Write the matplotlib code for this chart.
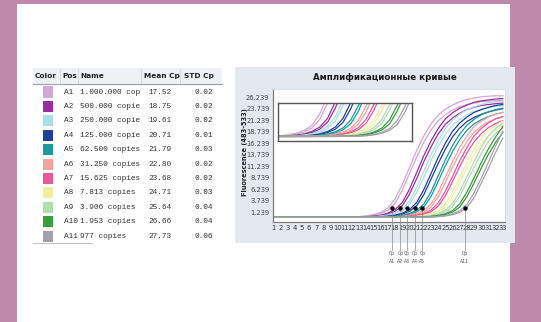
import matplotlib.pyplot as plt
from matplotlib.patches import Rectangle

W, H = 541, 322

# table data
positions = ["A1", "A2", "A3", "A4", "A5", "A6", "A7", "A8", "A9", "A10", "A11"]
names = ["1.000.000 cop", "500.000 copie", "250.000 copie", "125.000 copie",
         "62.500 copies", "31.250 copies", "15.625 copies", "7.813 copies",
         "3.906 copies", "1.953 copies", "977 copies"]
mean_cp = [17.52, 18.75, 19.61, 20.71, 21.79, 22.80, 23.68, 24.71, 25.64, 26.66, 27.73]
std_cp = [0.02, 0.02, 0.02, 0.01, 0.03, 0.02, 0.02, 0.03, 0.04, 0.04, 0.06]
colors = ["#d2a6d6", "#9a2e9e", "#abdde6", "#20409c", "#1c9a9e", "#f4a2a0",
          "#e8579a", "#f3efa2", "#b2dcb2", "#3b9b3f", "#a3a1ab"]

# fluorescence per cycle, two replicates per sample
cycles = list(range(1, 34))
fluor = [
    [0.1] * 11 + [0.13, 0.2, 0.32, 0.55, 0.94, 1.63, 3.15, 6.0, 9.6, 13.2, 16.4, 19.1, 21.1, 22.4, 23.4, 24.1, 24.6, 24.9, 25.2, 25.35, 25.45, 25.5],
    [0.1] * 12 + [0.12, 0.17, 0.28, 0.46, 0.8, 1.4, 2.6, 5.1, 8.5, 12.2, 15.4, 18.2, 20.3, 21.7, 22.7, 23.5, 24.0, 24.4, 24.6, 24.8, 24.9],
    [0.1] * 13 + [0.13, 0.18, 0.3, 0.5, 0.85, 1.5, 2.85, 5.5, 8.8, 12.4, 15.5, 18.1, 20.1, 21.4, 22.4, 23.1, 23.6, 23.9, 24.2, 24.3],
    [0.1] * 14 + [0.12, 0.17, 0.27, 0.46, 0.79, 1.37, 2.6, 5.0, 8.4, 11.8, 14.9, 17.6, 19.5, 20.9, 21.8, 22.5, 23.0, 23.4, 23.7],
    [0.1] * 15 + [0.12, 0.17, 0.26, 0.43, 0.74, 1.28, 2.35, 4.6, 7.9, 11.3, 14.4, 17.0, 19.0, 20.4, 21.3, 22.0, 22.5, 22.9],
    [0.1] * 16 + [0.12, 0.17, 0.25, 0.41, 0.72, 1.24, 2.3, 4.5, 7.7, 11.0, 14.0, 16.6, 18.6, 19.9, 20.9, 21.5, 22.0],
    [0.1] * 17 + [0.12, 0.16, 0.26, 0.44, 0.75, 1.3, 2.5, 4.75, 7.9, 11.1, 14.1, 16.5, 18.3, 19.6, 20.5, 21.1],
    [0.1] * 18 + [0.12, 0.15, 0.25, 0.42, 0.72, 1.26, 2.36, 4.6, 7.6, 10.8, 13.7, 16.1, 17.9, 19.1, 20.0],
    [0.1] * 19 + [0.12, 0.15, 0.25, 0.42, 0.74, 1.28, 2.4, 4.7, 7.8, 11.0, 14.0, 16.6, 18.3, 19.5],
    [0.1] * 20 + [0.12, 0.15, 0.25, 0.41, 0.71, 1.23, 2.3, 4.6, 7.6, 10.8, 13.8, 16.4, 18.5],
    [0.1] * 21 + [0.12, 0.14, 0.23, 0.38, 0.66, 1.16, 2.2, 4.4, 7.5, 10.8, 14.2, 17.3],
]
fluor_rep = [
    [0.12] * 11 + [0.16, 0.24, 0.4, 0.68, 1.15, 2.1, 4.1, 7.2, 10.9, 14.6, 17.8, 20.4, 22.3, 23.6, 24.5, 25.2, 25.7, 26.0, 26.3, 26.4, 26.5, 26.5],
    [0.12] * 12 + [0.14, 0.21, 0.34, 0.57, 0.99, 1.77, 3.3, 6.2, 9.8, 13.5, 16.7, 19.4, 21.5, 22.8, 23.8, 24.5, 25.1, 25.4, 25.6, 25.8, 25.9],
    [0.12] * 13 + [0.15, 0.22, 0.36, 0.61, 1.05, 1.91, 3.6, 6.6, 10.1, 13.7, 16.8, 19.3, 21.2, 22.5, 23.5, 24.1, 24.6, 25.0, 25.2, 25.3],
    [0.12] * 14 + [0.14, 0.21, 0.33, 0.56, 0.98, 1.75, 3.3, 6.1, 9.6, 13.1, 16.2, 18.8, 20.6, 21.9, 22.9, 23.5, 24.0, 24.4, 24.6],
    [0.12] * 15 + [0.14, 0.2, 0.31, 0.53, 0.92, 1.61, 3.0, 5.6, 9.1, 12.6, 15.7, 18.2, 20.1, 21.4, 22.4, 23.0, 23.5, 23.8],
    [0.12] * 16 + [0.14, 0.2, 0.3, 0.52, 0.9, 1.56, 2.97, 5.5, 8.9, 12.2, 15.3, 17.8, 19.9, 21.0, 21.9, 22.5, 22.9],
    [0.12] * 17 + [0.13, 0.2, 0.32, 0.54, 0.94, 1.66, 3.2, 5.8, 9.0, 12.4, 15.3, 17.8, 19.4, 20.6, 21.5, 22.0],
    [0.12] * 18 + [0.13, 0.18, 0.3, 0.51, 0.89, 1.6, 3.0, 5.6, 8.7, 12.0, 14.9, 17.3, 19.0, 20.1, 21.0],
    [0.12] * 19 + [0.13, 0.18, 0.3, 0.52, 0.91, 1.62, 3.1, 5.7, 8.9, 12.2, 15.3, 17.8, 19.4, 20.6],
    [0.12] * 20 + [0.13, 0.18, 0.3, 0.5, 0.87, 1.56, 3.0, 5.6, 8.7, 12.0, 15.0, 17.6, 19.8],
    [0.12] * 21 + [0.13, 0.17, 0.27, 0.47, 0.82, 1.48, 2.9, 5.4, 8.6, 12.1, 15.6, 18.8],
]
ytick_vals = [1.239, 3.739, 6.239, 8.739, 11.239, 13.739, 16.239, 18.739, 21.239, 23.739, 26.239]
cp_marked = [0, 1, 2, 3, 4, 10]
cp_level = 2.1

sans = ["DejaVu Sans"]
mono = ["Liberation Mono", "DejaVu Sans Mono"]


def box(x0, y0, x1, y1):
    return [x0 / W, 1 - y1 / H, (x1 - x0) / W, (y1 - y0) / H]


def fx(x):
    return x / W


def fy(y):
    return 1 - y / H


fig = plt.figure(figsize=(W / 100, H / 100), dpi=100)
fig.patch.set_facecolor("#be89aa")
fig.patches.append(Rectangle((fx(17), 0), fx(510) - fx(17), fy(4), transform=fig.transFigure,
                             facecolor="white", edgecolor="none", zorder=-3))

# ---- table ----
fig.patches.append(Rectangle((fx(33), fy(84)), fx(222) - fx(33), fy(68) - fy(84), transform=fig.transFigure,
                             facecolor="#eef0f3", edgecolor="none", zorder=-2))
fig.lines.append(plt.Line2D([fx(33), fx(222)], [fy(84), fy(84)], transform=fig.transFigure,
                            color="#9a9ea6", lw=0.8))
for xs in [60, 78, 141, 180]:
    fig.lines.append(plt.Line2D([fx(xs), fx(xs)], [fy(69), fy(83)], transform=fig.transFigure,
                                color="#d2d5da", lw=0.6))
hdr = dict(fontsize=5.3, fontweight="bold", family=sans, va="center", color="#222222")
fig.text(fx(35), fy(76), "Color", **hdr)
fig.text(fx(62), fy(76), "Pos", **hdr)
fig.text(fx(80), fy(76), "Name", **hdr)
fig.text(fx(144), fy(76), "Mean Cp", **hdr)
fig.text(fx(184), fy(76), "STD Cp", **hdr)

row = dict(fontsize=5.6, family=mono, va="center", color="#333333")
for i in range(len(positions)):
    yc = 92 + 14.4 * i
    fig.patches.append(Rectangle((fx(43), fy(yc + 5.5)), fx(53) - fx(43), fy(yc - 5.5) - fy(yc + 5.5),
                                 transform=fig.transFigure, facecolor=colors[i], edgecolor="none"))
    fig.text(fx(64), fy(yc), positions[i], **row)
    fig.text(fx(80), fy(yc), names[i], **row)
    fig.text(fx(148), fy(yc), f"{mean_cp[i]:.2f}", **row)
    fig.text(fx(213), fy(yc), f"{std_cp[i]:.2f}", ha="right", **row)
fig.lines.append(plt.Line2D([fx(33), fx(92)], [fy(243), fy(243)], transform=fig.transFigure,
                            color="#b5b8bd", lw=0.6))

# ---- chart panel ----
fig.patches.append(Rectangle((fx(235), fy(243)), fx(515) - fx(235), fy(67) - fy(243), transform=fig.transFigure,
                             facecolor="#e4e9f0", edgecolor="none", zorder=-2))
fig.text(fx(385), fy(78), "Амплификационные кривые", ha="center", va="center",
         fontsize=6.2, fontweight="bold", family=sans, color="#1a1a1a")
fig.text(fx(245), fy(152), "Fluorescence (483-533)", rotation=90, ha="center", va="center",
         fontsize=4.8, fontweight="bold", family=sans, color="#222222")

ax = fig.add_axes(box(273, 89, 505, 222))
for i in range(len(fluor)):
    ax.plot(cycles, fluor_rep[i], color=colors[i], lw=0.9)
    ax.plot(cycles, fluor[i], color=colors[i], lw=0.9)
ax.set_xlim(1, 33.3)
ax.set_ylim(-0.93, 27.98)
ax.set_xticks(cycles)
ax.set_xticklabels([str(c) for c in cycles], fontsize=4.9, family=sans, color="#333333")
ax.set_yticks(ytick_vals)
ax.set_yticklabels([f"{v:.3f}" for v in ytick_vals], fontsize=4.9, family=sans, color="#444444")
ax.tick_params(length=0, pad=2.5)
for s in ["left", "bottom"]:
    ax.spines[s].set_color("#7d7d7d")
    ax.spines[s].set_linewidth(0.9)
for s in ["top", "right"]:
    ax.spines[s].set_color("#d8dbe0")
    ax.spines[s].set_linewidth(0.6)

for i in cp_marked:
    ax.plot([mean_cp[i], mean_cp[i]], [cp_level, -7.0], color="#8a8a8a", lw=0.5, clip_on=False, zorder=5)
    ax.plot(mean_cp[i], cp_level, "o", color="black", ms=2.2, zorder=6)
    ax.text(mean_cp[i], -7.3, "Cp\n" + positions[i], ha="center", va="top", fontsize=3.3,
            family=sans, color="#555555", linespacing=1.6)

# inset zoom of the curve starts
ins = fig.add_axes(box(278, 103, 412, 141))
for i in range(len(fluor)):
    ins.plot(cycles, fluor_rep[i], color=colors[i], lw=0.9)
    ins.plot(cycles, fluor[i], color=colors[i], lw=0.9)
ins.set_xlim(12.6, 29.9)
ins.set_ylim(-0.7, 6)
ins.set_xticks([])
ins.set_yticks([])
for s in ins.spines.values():
    s.set_color("#555555")
    s.set_linewidth(1.0)

fig.savefig("out.png", dpi=100)
